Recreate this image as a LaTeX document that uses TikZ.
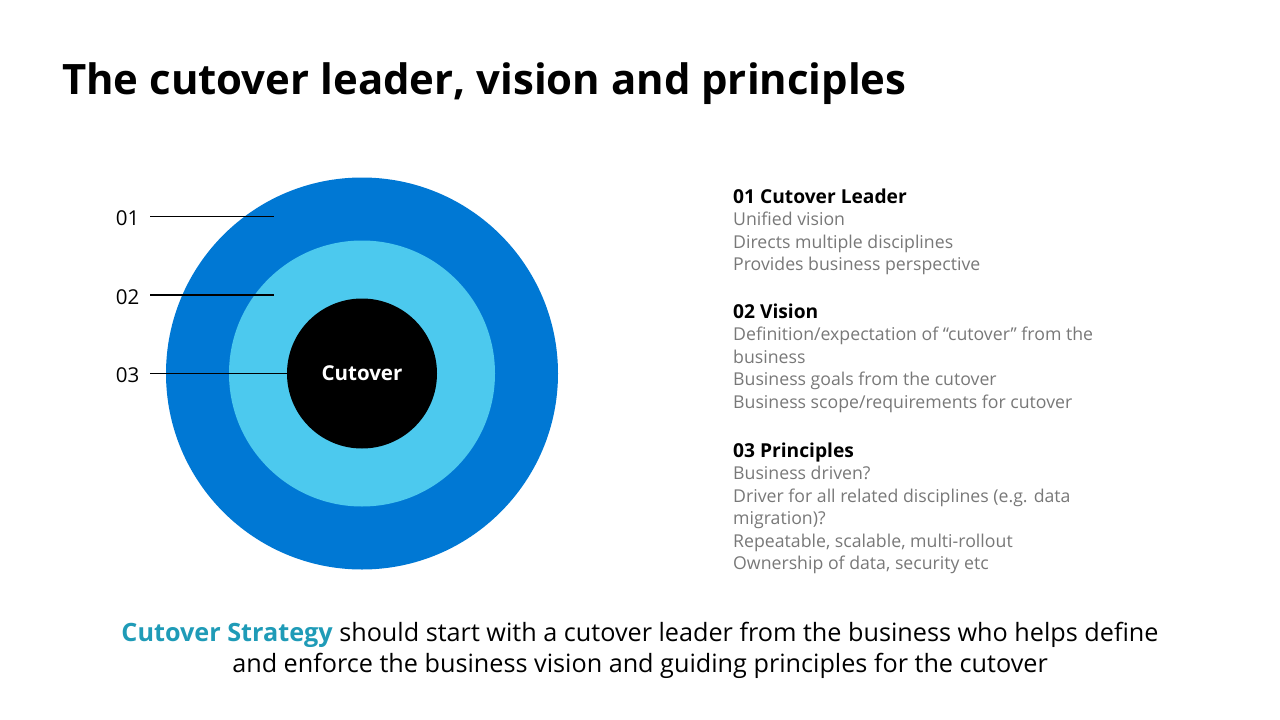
\documentclass[tikz,border=0pt]{standalone}
\usepackage{fontspec}
\setmainfont{Open Sans}
\definecolor{outerblue}{HTML}{0078D4}
\definecolor{midblue}{HTML}{4CC9EE}
\definecolor{graytext}{HTML}{787878}
\definecolor{strategyteal}{HTML}{1F9BB7}
\begin{document}
\begin{tikzpicture}[x=1pt,y=-1pt,
  ring/.style={circle,inner sep=0pt,outer sep=0pt,draw=none},
  lbl/.style={anchor=base east,inner sep=0pt,font=\fontsize{20.5}{24}\selectfont},
  leader/.style={line width=1.2pt,black},
  head/.style={anchor=base west,inner sep=0pt,font=\fontsize{19.2}{24}\selectfont\bfseries},
  item/.style={anchor=base west,inner sep=0pt,text=graytext,font=\fontsize{17.7}{20}\selectfont},
  bottom/.style={anchor=base,inner sep=0pt,font=\fontsize{25.2}{30}\selectfont}]
\useasboundingbox (0,0) rectangle (1280,720);
% title
\node[anchor=base west,inner sep=0pt,font=\fontsize{41.9}{50}\selectfont\bfseries] (title) at (62,94) {The cutover leader, vision and principles};
% rings
\node[ring,fill=outerblue,minimum size=392pt] (outer) at (362,373.5) {};
\node[ring,fill=midblue,minimum size=266pt] (middle) at (362,373.5) {};
\node[ring,fill=black,minimum size=150pt,text=white,font=\fontsize{20.5}{24}\selectfont\bfseries] (core) at (362,373.5) {Cutover};
% leader labels
\node[lbl] (n1) at (139.5,225) {01};
\node[lbl] (n2) at (139.5,304) {02};
\node[lbl] (n3) at (139.5,382.5) {03};
\coordinate (s1) at (150,216.5);
\coordinate (e1) at (274,216.5);
\coordinate (s2) at (150,295);
\coordinate (e2) at (274,295);
\coordinate (s3) at (150,373.5);
\draw[leader] (s1) -- (e1);
\draw[leader] (s2) -- (e2);
\draw[leader] (s3) -- (s3 -| core.west);
% right column
\node[head] (h1) at (733,203) {01 Cutover Leader};
\node[item] (a1) at (733,225.5) {Unified vision};
\node[item] (a2) at (733,248) {Directs multiple disciplines};
\node[item] (a3) at (733,270.5) {Provides business perspective};
\node[head] (h2) at (733,318) {02 Vision};
\node[item] (b1) at (733,340.5) {Definition/expectation of “cutover” from the};
\node[item] (b2) at (733,363) {business};
\node[item] (b3) at (733,385.5) {Business goals from the cutover};
\node[item] (b4) at (733,408) {Business scope/requirements for cutover};
\node[head] (h3) at (733,457) {03 Principles};
\node[item] (c1) at (733,479.5) {Business driven?};
\node[item] (c2) at (733,502) {Driver for all related disciplines (e.g. data};
\node[item] (c3) at (733,524.5) {migration)?};
\node[item] (c4) at (733,547) {Repeatable, scalable, multi-rollout};
\node[item] (c5) at (733,569.5) {Ownership of data, security etc};
% bottom statement
\node[bottom] (st1) at (640,641) {{\bfseries\color{strategyteal}Cutover Strategy} should start with a cutover leader from the business who helps define};
\node[bottom] (st2) at (640,672) {and enforce the business vision and guiding principles for the cutover};
\end{tikzpicture}
\end{document}
